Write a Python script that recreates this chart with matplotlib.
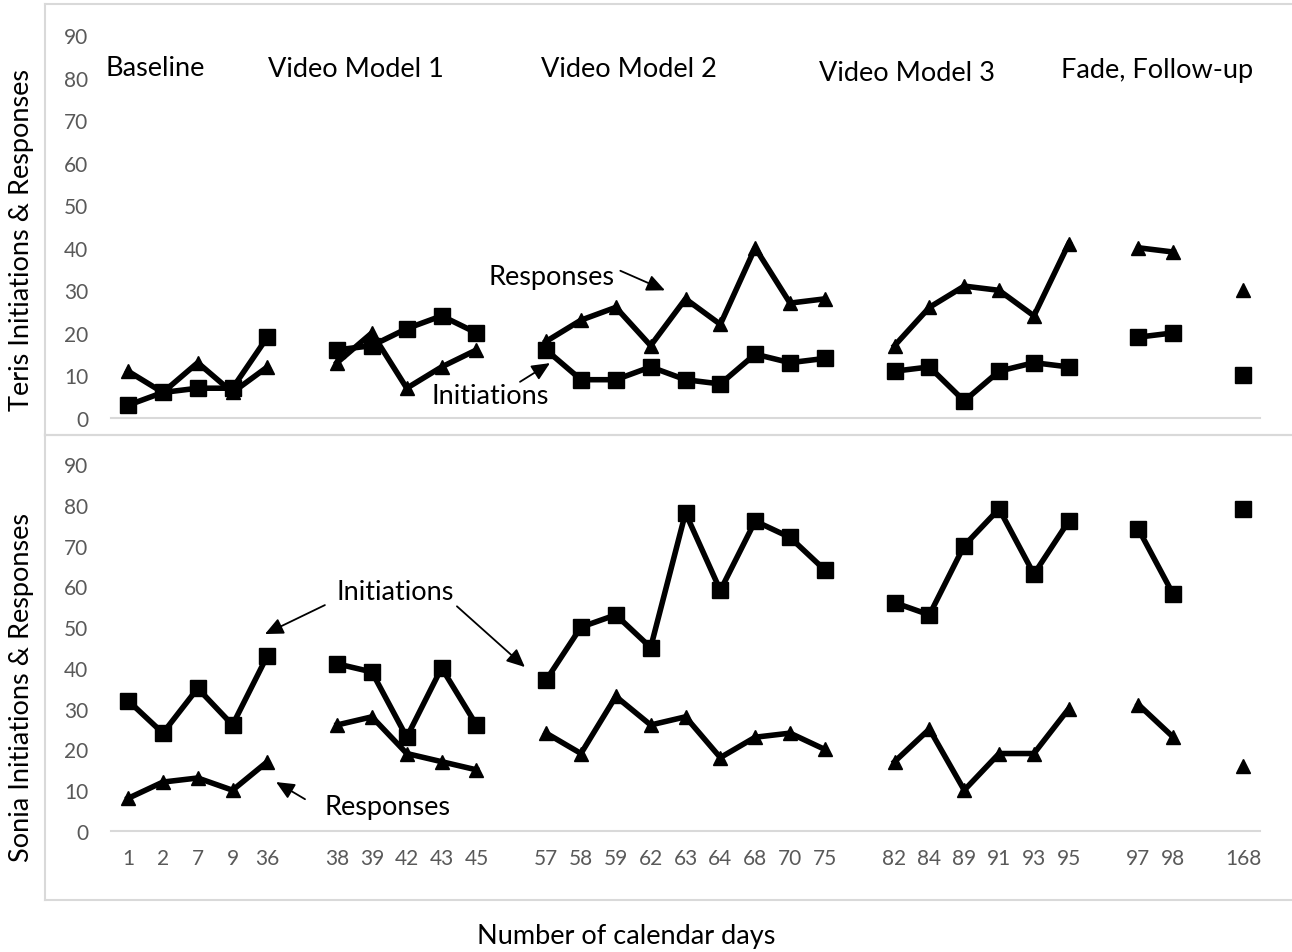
import numpy as np
import matplotlib.pyplot as plt
from matplotlib.lines import Line2D

plt.rcParams['font.family'] = ['Lato', 'DejaVu Sans']

# calendar days per session; None marks the blank slot between phases
days = ['1', '2', '7', '9', '36', None,
        '38', '39', '42', '43', '45', None,
        '57', '58', '59', '62', '63', '64', '68', '70', '75', None,
        '82', '84', '89', '91', '93', '95', None,
        '97', '98', None,
        '168']

teri_init = [3, 6, 7, 7, 19, None,
             16, 17, 21, 24, 20, None,
             16, 9, 9, 12, 9, 8, 15, 13, 14, None,
             11, 12, 4, 11, 13, 12, None,
             19, 20, None,
             10]
teri_resp = [11, 6, 13, 6, 12, None,
             13, 20, 7, 12, 16, None,
             18, 23, 26, 17, 28, 22, 40, 27, 28, None,
             17, 26, 31, 30, 24, 41, None,
             40, 39, None,
             30]
sonia_init = [32, 24, 35, 26, 43, None,
              41, 39, 23, 40, 26, None,
              37, 50, 53, 45, 78, 59, 76, 72, 64, None,
              56, 53, 70, 79, 63, 76, None,
              74, 58, None,
              79]
sonia_resp = [8, 12, 13, 10, 17, None,
              26, 28, 19, 17, 15, None,
              24, 19, 33, 26, 28, 18, 23, 24, 20, None,
              17, 25, 10, 19, 19, 30, None,
              31, 23, None,
              16]

phases = ['Baseline', 'Video Model 1', 'Video Model 2', 'Video Model 3', 'Fade, Follow-up']
phase_pos = [(0.77, 82.4), (6.54, 82.2), (14.38, 82.2), (22.36, 81.2), (29.53, 81.9)]

W, H = 1292, 953
fig = plt.figure(figsize=(W / 100, H / 100), dpi=100)

x = np.arange(len(days))
ticklabels = [d if d else '' for d in days]
grid = '#d9d9d9'
big = 19.5


def arr(v):
    return np.array([np.nan if a is None else a for a in v], dtype=float)


def panel(rect, init, resp):
    ax = fig.add_axes(rect)
    ax.plot(x, arr(resp), color='black', lw=4, marker='^', ms=10.5, clip_on=False)
    ax.plot(x, arr(init), color='black', lw=4, marker='s', ms=11.5, clip_on=False)
    ax.set_xlim(-0.5, len(days) - 0.5)
    ax.set_ylim(0, 90)
    ax.set_yticks(range(0, 91, 10))
    ax.set_xticks(x)
    ax.set_xticklabels(ticklabels)
    for s in ['top', 'right', 'left']:
        ax.spines[s].set_visible(False)
    ax.spines['bottom'].set_color(grid)
    ax.spines['bottom'].set_linewidth(1.5)
    ax.tick_params(length=0, labelsize=15, labelcolor='#595959')
    ax.tick_params(axis='y', pad=16)
    ax.tick_params(axis='x', pad=12)
    return ax


left = 110.6 / W
width = 1149.8 / W
top_ax = panel([left, 1 - 419 / H, width, (419 - 36) / H], teri_init, teri_resp)
bot_ax = panel([left, 1 - 832 / H, width, (832 - 465) / H], sonia_init, sonia_resp)
top_ax.set_xticklabels([])

fig.text(22 / W, 1 - 240 / H, 'Teris Initiations & Responses', fontsize=big,
         rotation=90, ha='center', va='center')
fig.text(22 / W, 1 - 688 / H, 'Sonia Initiations & Responses', fontsize=big,
         rotation=90, ha='center', va='center')

for name, (px, py) in zip(phases, phase_pos):
    top_ax.text(px, py, name, fontsize=big, ha='center', va='center')

arrow = dict(arrowstyle='-|>,head_length=0.55,head_width=0.25', color='black',
             lw=1.3, mutation_scale=20, shrinkA=0, shrinkB=0)


def label(ax, text, pos, arrows):
    ax.text(pos[0], pos[1], text, fontsize=big, ha='center', va='center')
    for tail, head in arrows:
        ax.annotate('', xy=head, xytext=tail, arrowprops=arrow, annotation_clip=False)


label(top_ax, 'Responses', (12.14, 33.3), [((14.13, 34.6), (15.41, 30.0))])
label(top_ax, 'Initiations', (10.39, 5.2), [((11.25, 8.5), (12.11, 12.9))])
label(bot_ax, 'Initiations', (7.66, 58.8), [((5.65, 55.4), (3.93, 48.3)),
                                            ((9.44, 55.1), (11.39, 40.2))])
label(bot_ax, 'Responses', (7.46, 5.9), [((5.08, 7.8), (4.25, 12.0))])

fig.text(626 / W, 1 - 937 / H, 'Number of calendar days', fontsize=big,
         ha='center', va='center')

# chart borders
for y0, y1 in [(5, 436), (436, 901)]:
    fig.add_artist(Line2D([45 / W, 1.01], [1 - y0 / H, 1 - y0 / H], color=grid, lw=1.5))
    fig.add_artist(Line2D([45 / W, 1.01], [1 - y1 / H, 1 - y1 / H], color=grid, lw=1.5))
    fig.add_artist(Line2D([45 / W, 45 / W], [1 - y0 / H, 1 - y1 / H], color=grid, lw=1.5))

fig.savefig('out.png', dpi=100)
